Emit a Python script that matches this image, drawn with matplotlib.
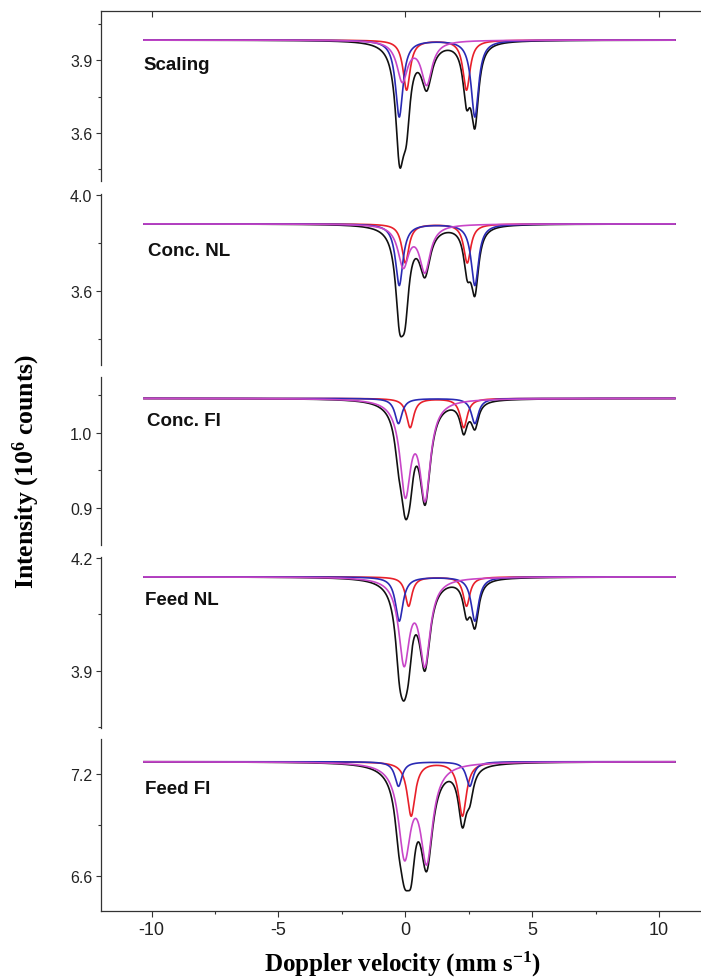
import numpy as np
import matplotlib
matplotlib.use("Agg")
import matplotlib.pyplot as plt
from matplotlib.ticker import MultipleLocator, FormatStrFormatter, NullLocator

# ---------------- data ----------------
panel_names = ["Scaling", "Conc. NL", "Conc. FI", "Feed NL", "Feed FI"]
baselines = [3.984, 3.880, 1.0453, 4.150, 7.272]

# blue doublet (line centres mm/s, line depths, half width)
blue_centers = [(-0.24, 2.74), (-0.24, 2.74), (-0.27, 2.74), (-0.24, 2.74), (-0.27, 2.54)]
blue_depths = [(0.318, 0.318), (0.257, 0.257), (0.0334, 0.0334), (0.1176, 0.1176), (0.144, 0.144)]
blue_hwhm = [0.18, 0.18, 0.17, 0.18, 0.17]

# red doublet
red_centers = [(0.05, 2.41), (0.00, 2.44), (0.19, 2.30), (0.13, 2.41), (0.23, 2.25)]
red_depths = [(0.207, 0.207), (0.163, 0.163), (0.0387, 0.0387), (0.078, 0.078), (0.317, 0.317)]
red_hwhm = [0.17, 0.17, 0.17, 0.16, 0.19]

# magenta doublet
mag_centers = [(-0.12, 0.84), (-0.08, 0.77), (0.00, 0.78), (-0.05, 0.77), (-0.03, 0.84)]
mag_depths = [(0.165, 0.178), (0.171, 0.192), (0.1204, 0.1254), (0.2196, 0.2217), (0.526, 0.553)]
mag_hwhm = [0.255, 0.255, 0.255, 0.255, 0.29]

velocity_start, velocity_end = -10.3, 10.62

y_limits = [(3.40, 4.103), (3.29, 4.005), (0.851, 1.074), (3.747, 4.202), (6.40, 7.405)]
y_major = [0.3, 0.4, 0.1, 0.3, 0.6]
x_ticks_major = 5
x_ticks_minor = 2.5

# ---------------- layout ----------------
W, H = 701, 979
panel_top_px = [12.3, 195.0, 377.7, 558.3, 740.0]
panel_bot_px = [182.0, 366.0, 546.0, 729.3, 911.5]
left_px = 100.8
label_xy = [(-10.3, 3.882), (-10.13, 3.768), (-10.19, 1.016), (-10.24, 4.090), (-10.24, 7.112)]

C_BLACK = "#111111"
C_RED = "#e8202a"
C_BLUE = "#2a2ab4"
C_MAG = "#c846c8"
AX_COLOR = "#333333"

plt.rcParams["axes.unicode_minus"] = False
plt.rcParams["mathtext.fontset"] = "custom"
plt.rcParams["mathtext.rm"] = "Liberation Serif:bold"
plt.rcParams["mathtext.it"] = "Liberation Serif:bold"
plt.rcParams["mathtext.bf"] = "Liberation Serif:bold"

fig = plt.figure(figsize=(W / 100, H / 100), dpi=100)

v = np.linspace(velocity_start, velocity_end, 3000)


def doublet(x, centers, depths, g):
    out = np.zeros_like(x)
    for c, d in zip(centers, depths):
        out += d / (1.0 + ((x - c) / g) ** 2)
    return out


axes = []
for i in range(5):
    top, bot = panel_top_px[i], panel_bot_px[i]
    ax = fig.add_axes([left_px / W, 1 - bot / H, 1 - left_px / W, (bot - top) / H])
    axes.append(ax)
    base = baselines[i]
    b = doublet(v, blue_centers[i], blue_depths[i], blue_hwhm[i])
    r = doublet(v, red_centers[i], red_depths[i], red_hwhm[i])
    m = doublet(v, mag_centers[i], mag_depths[i], mag_hwhm[i])
    ax.plot(v, base - (b + r + m), color=C_BLACK, lw=1.2, zorder=2)
    ax.plot(v, base - r, color=C_RED, lw=1.2, zorder=3)
    ax.plot(v, base - b, color=C_BLUE, lw=1.2, zorder=4)
    ax.plot(v, base - m, color=C_MAG, lw=1.2, zorder=5)

    ax.set_xlim(-12.0, 11.65)
    ax.set_ylim(*y_limits[i])
    ax.patch.set_alpha(0)

    ax.spines["right"].set_visible(False)
    ax.spines["left"].set_color(AX_COLOR)
    ax.spines["left"].set_linewidth(0.9)
    ax.yaxis.set_major_locator(MultipleLocator(y_major[i]))
    ax.yaxis.set_minor_locator(MultipleLocator(y_major[i] / 2))
    ax.yaxis.set_major_formatter(FormatStrFormatter("%.1f"))
    ax.tick_params(axis="y", which="major", direction="out", length=3.5, width=0.8,
                   color=AX_COLOR, labelsize=11.5, labelcolor="#222222", pad=2.5)
    ax.tick_params(axis="y", which="minor", direction="out", length=2.2, width=0.8,
                   color=AX_COLOR)
    for lab in ax.get_yticklabels():
        lab.set_fontfamily("Liberation Sans")

    if i == 0:
        ax.spines["bottom"].set_visible(False)
        ax.spines["top"].set_color(AX_COLOR)
        ax.spines["top"].set_linewidth(0.9)
        ax.xaxis.set_major_locator(MultipleLocator(10))
        ax.xaxis.set_minor_locator(NullLocator())
        ax.tick_params(axis="x", which="major", bottom=False, top=True, labelbottom=False,
                       labeltop=False, direction="in", length=4, width=0.8, color=AX_COLOR)
    elif i == 4:
        ax.spines["top"].set_visible(False)
        ax.spines["bottom"].set_color(AX_COLOR)
        ax.spines["bottom"].set_linewidth(0.9)
        ax.xaxis.set_major_locator(MultipleLocator(x_ticks_major))
        ax.xaxis.set_minor_locator(MultipleLocator(x_ticks_minor))
        ax.tick_params(axis="x", which="major", direction="out", length=4, width=0.8,
                       color=AX_COLOR, labelsize=13, labelcolor="#222222", pad=3.5)
        ax.tick_params(axis="x", which="minor", direction="out", length=2.4, width=0.8,
                       color=AX_COLOR)
        for lab in ax.get_xticklabels():
            lab.set_fontfamily("Liberation Sans")
    else:
        ax.spines["top"].set_visible(False)
        ax.spines["bottom"].set_visible(False)
        ax.tick_params(axis="x", which="both", bottom=False, top=False, labelbottom=False)

    lx, ly = label_xy[i]
    ax.text(lx, ly, panel_names[i], family="Liberation Sans", fontweight="bold",
            fontsize=13.5, ha="left", va="center", color="#111111", zorder=6)

fig.text(402 / W, 1 - 964 / H, "Doppler velocity (mm s$^{-1}$)",
         family="Liberation Serif", fontweight="bold", fontsize=18,
         ha="center", va="center")
fig.text(26.7 / W, 1 - 471.7 / H, "Intensity (10$^{6}$ counts)", rotation=90,
         family="Liberation Serif", fontweight="bold", fontsize=18.5,
         ha="center", va="center")

fig.savefig("out.png", dpi=100)
